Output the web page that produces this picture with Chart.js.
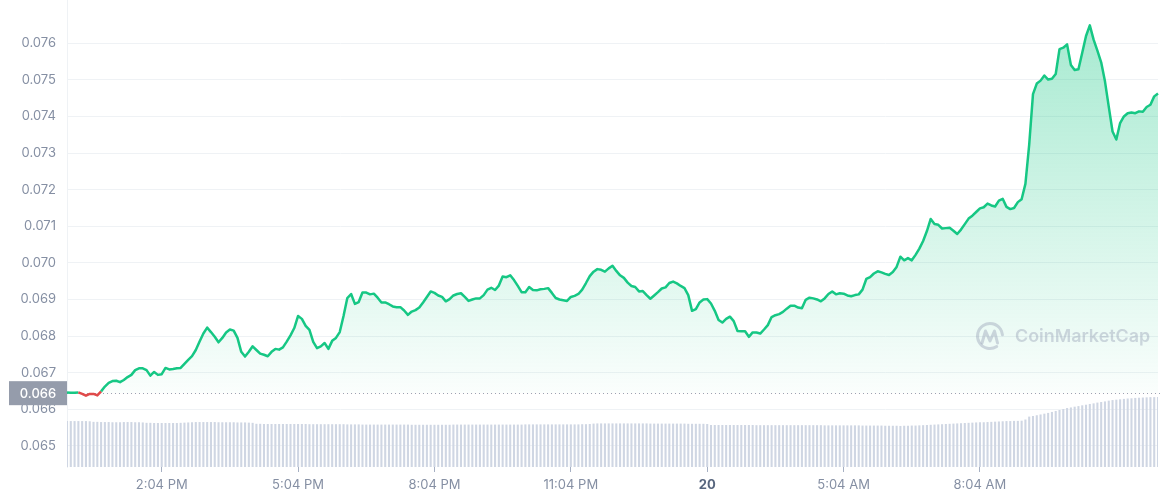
<!DOCTYPE html>
<html>
<head>
<meta charset="utf-8">
<title>price 1D</title>
<script src="https://cdn.jsdelivr.net/npm/chart.js@4"></script>
<style>
  html, body { margin: 0; padding: 0; background: #fff; }
  #wrap { width: 1161px; height: 500px; }
</style>
</head>
<body>
<div id="wrap"><canvas id="chart" width="1161" height="500"></canvas></div>
<script>
// 24h price chart, one sample every 5 minutes, volume bars underneath

// price samples (11:59 AM -> 11:59 AM next day)
const price_values = [
  0.06646, 0.06645, 0.06645, 0.06646, 0.06642, 0.06637, 0.06642, 0.06642, 0.06638, 0.06649,
  0.06662, 0.06672, 0.06677, 0.06678, 0.06674, 0.06680, 0.06688, 0.06694, 0.06707, 0.06712,
  0.06712, 0.06707, 0.06692, 0.06702, 0.06694, 0.06696, 0.06713, 0.06709, 0.06710, 0.06712,
  0.06713, 0.06724, 0.06735, 0.06745, 0.06762, 0.06785, 0.06807, 0.06823, 0.06811, 0.06798,
  0.06783, 0.06795, 0.06810, 0.06818, 0.06815, 0.06795, 0.06757, 0.06744, 0.06757, 0.06772,
  0.06762, 0.06752, 0.06749, 0.06745, 0.06757, 0.06765, 0.06763, 0.06769, 0.06785, 0.06802,
  0.06822, 0.06855, 0.06847, 0.06828, 0.06817, 0.06784, 0.06767, 0.06772, 0.06781, 0.06765,
  0.06787, 0.06795, 0.06811, 0.06855, 0.06904, 0.06915, 0.06888, 0.06893, 0.06919, 0.06919,
  0.06914, 0.06916, 0.06905, 0.06892, 0.06892, 0.06887, 0.06881, 0.06879, 0.06879, 0.06870,
  0.06858, 0.06867, 0.06871, 0.06878, 0.06892, 0.06907, 0.06922, 0.06918, 0.06911, 0.06907,
  0.06895, 0.06901, 0.06911, 0.06915, 0.06917, 0.06907, 0.06896, 0.06900, 0.06903, 0.06903,
  0.06912, 0.06927, 0.06932, 0.06926, 0.06938, 0.06963, 0.06961, 0.06966, 0.06953, 0.06937,
  0.06920, 0.06920, 0.06934, 0.06926, 0.06925, 0.06928, 0.06929, 0.06931, 0.06918, 0.06904,
  0.06900, 0.06898, 0.06896, 0.06907, 0.06910, 0.06915, 0.06927, 0.06945, 0.06964, 0.06976,
  0.06983, 0.06981, 0.06976, 0.06985, 0.06992, 0.06978, 0.06966, 0.06959, 0.06946, 0.06937,
  0.06934, 0.06922, 0.06923, 0.06912, 0.06902, 0.06911, 0.06920, 0.06930, 0.06933, 0.06945,
  0.06949, 0.06944, 0.06937, 0.06931, 0.06912, 0.06869, 0.06874, 0.06892, 0.06900, 0.06901,
  0.06889, 0.06869, 0.06844, 0.06837, 0.06847, 0.06853, 0.06841, 0.06814, 0.06813, 0.06813,
  0.06798, 0.06810, 0.06810, 0.06807, 0.06818, 0.06830, 0.06852, 0.06857, 0.06860, 0.06866,
  0.06875, 0.06883, 0.06883, 0.06878, 0.06876, 0.06899, 0.06905, 0.06903, 0.06900, 0.06895,
  0.06903, 0.06915, 0.06922, 0.06914, 0.06917, 0.06916, 0.06911, 0.06909, 0.06912, 0.06914,
  0.06927, 0.06956, 0.06961, 0.06971, 0.06977, 0.06974, 0.06970, 0.06967, 0.06975, 0.06989,
  0.07017, 0.07007, 0.07013, 0.07007, 0.07022, 0.07039, 0.07060, 0.07087, 0.07120, 0.07106,
  0.07104, 0.07094, 0.07095, 0.07096, 0.07088, 0.07079, 0.07091, 0.07106, 0.07121, 0.07129,
  0.07139, 0.07149, 0.07152, 0.07162, 0.07157, 0.07154, 0.07170, 0.07175, 0.07153, 0.07147,
  0.07150, 0.07166, 0.07174, 0.07216, 0.07323, 0.07461, 0.07490, 0.07498, 0.07512, 0.07501,
  0.07503, 0.07516, 0.07584, 0.07588, 0.07597, 0.07541, 0.07527, 0.07529, 0.07574, 0.07620,
  0.07649, 0.07610, 0.07580, 0.07548, 0.07496, 0.07427, 0.07359, 0.07337, 0.07382, 0.07400,
  0.07409, 0.07411, 0.07409, 0.07414, 0.07413, 0.07426, 0.07432, 0.07455, 0.07463
];

// rolling 24h volume (millions), same samples
const volume_values = [
  236, 236, 236, 236, 236, 236, 235,
  232, 232, 231, 231, 231, 230, 230, 230, 231, 231, 231, 230, 230, 229,
  227, 227, 226, 226, 226, 226, 226, 226, 226, 227, 228, 229, 230,
  231, 231, 231, 231, 231, 231, 230, 230, 230, 230, 230, 229, 229, 229, 228, 227,
  222, 222, 221, 221, 221, 221, 221, 221, 221, 221, 221, 221, 221, 221,
  220, 220, 220, 220, 220, 220, 220, 220, 220, 220, 219, 219, 219, 219,
  218, 218, 218, 218, 218, 218, 218, 218, 218, 218,
  218, 218, 218, 217, 217, 217, 217, 217, 217, 217,
  217, 217, 217, 217, 218, 218, 218, 218, 218, 218,
  218, 218, 218, 218, 218, 218, 218, 218, 218, 218,
  218, 218, 218, 219, 219, 219, 219, 219, 219, 219,
  219, 219, 219, 219, 219, 219, 219, 219, 220, 220,
  221,
  223, 224, 224, 224, 224, 224, 224, 224, 224, 224,
  224, 224, 224, 224, 224, 223, 223, 223, 223, 223,
  223, 223, 223, 223, 223, 222, 222, 222, 222, 222,
  221,
  216, 216, 216, 216, 216, 216, 216, 216, 216, 216,
  216, 216, 215, 215, 215, 215, 215, 215, 215, 215,
  215, 215, 215, 215, 215, 215, 215, 215, 215, 215,
  214, 214, 214, 214, 214, 214, 214, 214, 214, 214,
  213, 213, 213, 213, 213, 213, 212, 212, 212, 212,
  211, 212, 212, 213, 213, 214, 215, 216, 217, 218,
  219, 220, 221, 222, 223, 224, 225, 226, 227, 228,
  229, 230, 230, 231, 232, 233, 234, 235, 236, 236,
  237, 237, 238,
  244, 259, 262, 266, 270, 274, 278, 283, 288, 293, 298, 303,
  306, 310, 313, 317, 320, 324, 327, 331, 334, 337, 341, 344,
  346, 348, 350, 352, 353, 355,
  356, 357, 358, 359, 359, 360
];

// price 24h ago, the dotted reference line
const open_price = 0.06644;

// axis stuff
const y_ticks = [0.065, 0.066, 0.067, 0.068, 0.069, 0.070, 0.071, 0.072, 0.073, 0.074, 0.075, 0.076];
const y_min = 0.064423;
const y_max = 0.077183;
const vol_max = 2400;
const x_tick_times = ["2:04 PM", "5:04 PM", "8:04 PM", "11:04 PM", "2:04 AM", "5:04 AM", "8:04 AM"];
const x_tick_text = ["2:04 PM", "5:04 PM", "8:04 PM", "11:04 PM", "20", "5:04 AM", "8:04 AM"];
const start_minute = 11 * 60 + 59; // 11:59 AM
const step_minutes = 5;

// colours
const green = "#16c784";
const red = "#e04a4a";
const axis_grey = "#858fa3";

// "h:mm AM" from minutes since midnight
function fmt_time(m) {
  m = m % 1440;
  let h = Math.floor(m / 60);
  const mm = m % 60;
  const ampm = h < 12 ? "AM" : "PM";
  h = h % 12;
  if (h === 0) h = 12;
  return h + ":" + String(mm).padStart(2, "0") + " " + ampm;
}

const time_labels = price_values.map((_, i) => fmt_time(start_minute + i * step_minutes));

// green fill fading down to the reference line
function green_fill(ctx) {
  const chart = ctx.chart;
  const area = chart.chartArea;
  if (!area || !chart.scales.y) return "rgba(22,199,132,0.2)";
  const y_open = chart.scales.y.getPixelForValue(open_price);
  const g = chart.ctx.createLinearGradient(0, area.top, 0, y_open);
  g.addColorStop(0, "rgba(22,199,132,0.40)");
  g.addColorStop(1, "rgba(22,199,132,0.02)");
  return g;
}

// dotted open line, drawn under the price line
const open_line = {
  id: "open_line",
  beforeDatasetsDraw(chart) {
    const c = chart.ctx;
    const a = chart.chartArea;
    const y = Math.round(chart.scales.y.getPixelForValue(open_price)) + 0.5;
    c.save();
    c.strokeStyle = "#9aa4b5";
    c.lineWidth = 1;
    c.setLineDash([1, 3]);
    c.beginPath();
    c.moveTo(a.left, y);
    c.lineTo(a.right + 3, y);
    c.stroke();
    c.restore();
  },
  afterDraw(chart) {
    // grey price tag on the y axis
    const c = chart.ctx;
    const a = chart.chartArea;
    const y = chart.scales.y.getPixelForValue(open_price);
    c.save();
    c.fillStyle = "#959cab";
    c.fillRect(9, y - 12, a.left - 9, 24);
    c.fillStyle = "#fff";
    c.font = "500 13px Inter";
    c.textAlign = "center";
    c.textBaseline = "middle";
    c.fillText(open_price.toFixed(3), (9 + a.left) / 2, y + 1);
    c.restore();
  }
};

// the faint CoinMarketCap logo
const watermark = {
  id: "watermark",
  afterDatasetsDraw(chart) {
    const c = chart.ctx;
    const col = "rgba(150,160,180,0.42)";
    const cx = 990, cy = 336;
    c.save();
    c.strokeStyle = col;
    c.lineWidth = 3;
    c.lineCap = "round";
    c.lineJoin = "round";
    c.beginPath();
    c.arc(cx, cy, 12.5, 0.32 * Math.PI, 1.97 * Math.PI);
    c.stroke();
    c.beginPath();
    c.moveTo(cx - 8, cy + 7);
    c.lineTo(cx - 4.5, cy - 5);
    c.lineTo(cx, cy + 5);
    c.lineTo(cx + 4.5, cy - 5);
    c.lineTo(cx + 7.5, cy + 7);
    c.stroke();
    c.fillStyle = col;
    let size = 20;
    c.font = "600 " + size + "px Inter";
    const w = c.measureText("CoinMarketCap").width;
    size = size * 135 / w;
    c.font = "600 " + size.toFixed(1) + "px Inter";
    c.textAlign = "left";
    c.textBaseline = "middle";
    c.fillText("CoinMarketCap", 1015, cy + 1);
    c.restore();
  }
};

function init_chart() {
  const config = {
    type: "line",
    data: {
      labels: time_labels,
      datasets: [
        {
          type: "line",
          label: "price",
          data: price_values,
          yAxisID: "y",
          order: 0,
          borderColor: green,
          borderWidth: 2.5,
          borderJoinStyle: "round",
          pointRadius: 0,
          tension: 0,
          backgroundColor: green_fill,
          fill: { target: { value: open_price }, below: "rgba(234,57,67,0.08)" },
          segment: {
            borderColor: (ctx) =>
              (ctx.p0.parsed.y < open_price || ctx.p1.parsed.y < open_price) ? red : undefined
          }
        },
        {
          type: "bar",
          label: "volume",
          data: volume_values,
          yAxisID: "yv",
          order: 1,
          backgroundColor: "#cfd6e3",
          barPercentage: 0.55,
          categoryPercentage: 1
        }
      ]
    },
    options: {
      responsive: false,
      devicePixelRatio: 1,
      animation: false,
      layout: { padding: { left: 0, right: 3, top: 0, bottom: 0 }, autoPadding: false },
      plugins: {
        legend: { display: false },
        tooltip: { enabled: false }
      },
      scales: {
        x: {
          type: "category",
          offset: false,
          afterBuildTicks: (axis) => {
            axis.ticks = axis.ticks.filter((t) => x_tick_times.includes(time_labels[t.value]));
          },
          afterFit: (axis) => {
            axis.height = 33;
            axis.paddingLeft = 0;
            axis.paddingRight = 0;
          },
          grid: { display: true, offset: false, drawOnChartArea: false, drawTicks: true, tickLength: 5, color: "#a6b0c3" },
          border: { display: false },
          ticks: {
            autoSkip: false,
            maxRotation: 0,
            padding: 5,
            color: (ctx) => (ctx.tick && ctx.tick.label === "20") ? "#58667e" : axis_grey,
            font: (ctx) => ({
              family: "Inter",
              size: 13,
              weight: (ctx.tick && ctx.tick.label === "20") ? "700" : "400"
            }),
            callback: function(v) {
              return x_tick_text[x_tick_times.indexOf(this.getLabelForValue(v))];
            }
          }
        },
        y: {
          position: "left",
          min: y_min,
          max: y_max,
          afterBuildTicks: (axis) => { axis.ticks = y_ticks.map((v) => ({ value: v })); },
          afterFit: (axis) => {
            axis.width = 67;
            axis.paddingTop = 0;
            axis.paddingBottom = 0;
          },
          grid: { color: "#eff2f5", drawTicks: false },
          border: { display: true, color: "#eff2f5" },
          ticks: {
            padding: 11,
            color: axis_grey,
            font: { family: "Inter", size: 13 },
            callback: (v) => Number(v).toFixed(3)
          }
        },
        yv: {
          display: false,
          min: 0,
          max: vol_max
        }
      }
    },
    plugins: [open_line, watermark]
  };
  return new Chart(document.getElementById("chart").getContext("2d"), config);
}

init_chart();
</script>
</body>
</html>
